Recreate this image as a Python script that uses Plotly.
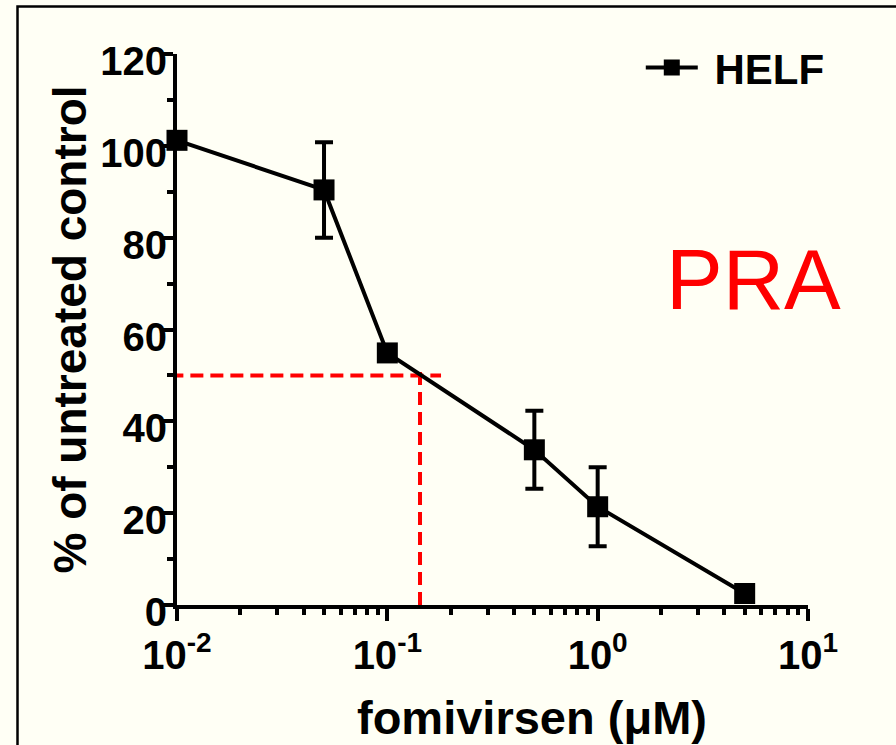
import plotly.graph_objects as go

# ---- data ----
conc_uM = [0.01, 0.05, 0.1, 0.5, 1, 5]
pct_control = [101.2, 90.4, 54.9, 33.8, 21.4, 2.5]
pct_err = [1.0, 10.4, 1.5, 8.5, 8.6, 1.5]

ic50_x = [0.0093, 0.143, 0.18]   # guide line x values (start, ic50, end)
ic50_y = [0, 50, 52]             # guide line y values (base, 50%, top)

x_tickvals = [0.01, 0.1, 1, 10]
x_ticktext = ["10<sup>-2</sup>", "10<sup>-1</sup>", "10<sup>0</sup>", "10<sup>1</sup>"]
x_minor = [m * d for d in [0.01, 0.1, 1] for m in range(2, 10)]
y_tickvals = [0, 20, 40, 60, 80, 100, 120]
y_minor = [10, 30, 50, 70, 90, 110]

BG = "#FFFFF5"
FONT = "Arial, Liberation Sans, sans-serif"

fig = go.Figure()

# red dashed IC50 guides
fig.add_trace(go.Scatter(
    x=[ic50_x[0], ic50_x[2]], y=[ic50_y[1], ic50_y[1]], mode="lines",
    line=dict(color="#FF0000", width=4, dash="13px,7px"),
    showlegend=False, cliponaxis=False, hoverinfo="skip"))
fig.add_trace(go.Scatter(
    x=[ic50_x[1], ic50_x[1]], y=[ic50_y[0], ic50_y[2]], mode="lines",
    line=dict(color="#FF0000", width=4, dash="13px,7px"),
    showlegend=False, cliponaxis=False, hoverinfo="skip"))

fig.add_trace(go.Scatter(
    x=conc_uM, y=pct_control, mode="lines+markers", name=" HELF",
    line=dict(color="black", width=4),
    marker=dict(symbol="square", size=21, color="black"),
    error_y=dict(type="data", array=pct_err, color="black", thickness=4, width=9),
    cliponaxis=False))

fig.add_annotation(text="PRA", xref="paper", yref="paper", x=0.914, y=0.59,
                   xanchor="center", yanchor="middle", showarrow=False,
                   font=dict(family=FONT, size=85, color="#FF0000", weight="normal"))

fig.add_annotation(text="fomivirsen (μM)", xref="paper", yref="paper", x=0.5626, y=-0.205,
                   xanchor="center", yanchor="middle", showarrow=False,
                   font=dict(family=FONT, size=47, color="black", weight="bold"))

# outer frame
fig.add_shape(type="rect", xref="paper", yref="paper",
              x0=(17.5 - 177) / 631, x1=2.0, y0=-1.0, y1=(605 - 6.5) / 551,
              line=dict(color="black", width=2.5), fillcolor="rgba(0,0,0,0)", layer="below")

fig.update_layout(
    width=896, height=745,
    margin=dict(l=177, r=88, t=54, b=140, pad=0),
    paper_bgcolor=BG, plot_bgcolor=BG,
    font=dict(family=FONT, color="black", weight="bold"),
    legend=dict(x=0.735, y=1.037, xanchor="left", yanchor="top", itemwidth=52,
                bgcolor="rgba(0,0,0,0)", font=dict(size=42, weight="bold")),
    xaxis=dict(type="log", range=[-2, 1], showgrid=False, zeroline=False,
               showline=True, linecolor="black", linewidth=4,
               tickmode="array", tickvals=x_tickvals, ticktext=x_ticktext,
               ticks="outside", ticklen=12, tickwidth=4, tickcolor="black",
               tickfont=dict(size=40, weight="bold"),
               minor=dict(tickmode="array", tickvals=x_minor, ticks="outside",
                          ticklen=6, tickwidth=4, tickcolor="black", showgrid=False)),
    yaxis=dict(range=[0, 120], showgrid=False, zeroline=False,
               showline=True, linecolor="black", linewidth=4,
               tickmode="array", tickvals=y_tickvals,
               ticks="outside", ticklen=12, tickwidth=4, tickcolor="black",
               tickfont=dict(size=40, weight="bold"),
               ticklabelstandoff=-14, ticklabelshift=7,
               minor=dict(tickmode="array", tickvals=y_minor, ticks="outside",
                          ticklen=6, tickwidth=4, tickcolor="black", showgrid=False),
               title=dict(text="% of untreated control", standoff=0,
                          font=dict(size=46, weight="bold"))),
)

fig.write_html("out.html", config={"displayModeBar": False},
               post_script="document.body.style.margin='0';document.body.style.padding='0';")
